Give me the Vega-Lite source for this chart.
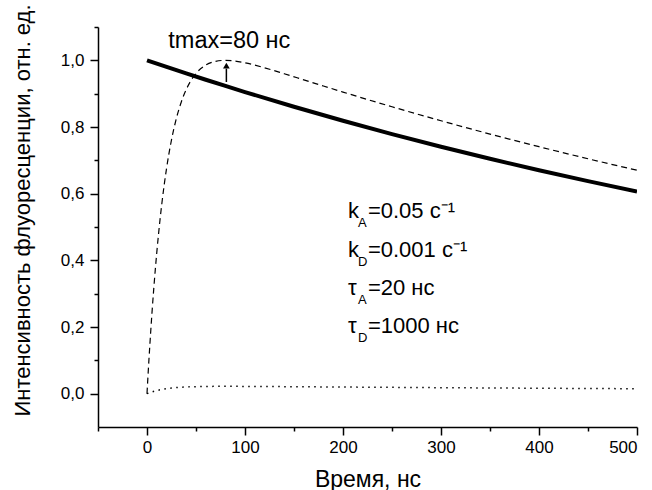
{
  "$schema": "https://vega.github.io/schema/vega-lite/v6.json",
  "width": 539,
  "height": 400,
  "autosize": {"type": "none"},
  "padding": {"left": 98, "top": 27, "right": 15, "bottom": 63},
  "background": "white",
  "config": {
    "view": {"stroke": null},
    "font": "Liberation Sans",
    "axis": {
      "grid": false,
      "domainColor": "#000",
      "domainWidth": 1.5,
      "tickColor": "#000",
      "tickWidth": 1.5,
      "labelColor": "#000",
      "labelFont": "Liberation Sans",
      "labelFontSize": 17,
      "titleFont": "Liberation Sans",
      "titleFontSize": 22,
      "titleFontWeight": "normal",
      "titleColor": "#000"
    }
  },
  "datasets": {
    "curves": [
      {"t": 0, "v": 1.0, "s": "solid"},
      {"t": 20, "v": 0.9802, "s": "solid"},
      {"t": 40, "v": 0.9608, "s": "solid"},
      {"t": 60, "v": 0.9418, "s": "solid"},
      {"t": 80, "v": 0.9231, "s": "solid"},
      {"t": 100, "v": 0.9048, "s": "solid"},
      {"t": 150, "v": 0.8607, "s": "solid"},
      {"t": 200, "v": 0.8187, "s": "solid"},
      {"t": 250, "v": 0.7788, "s": "solid"},
      {"t": 300, "v": 0.7408, "s": "solid"},
      {"t": 350, "v": 0.7047, "s": "solid"},
      {"t": 400, "v": 0.6703, "s": "solid"},
      {"t": 450, "v": 0.6376, "s": "solid"},
      {"t": 500, "v": 0.6065, "s": "solid"},
      {"t": 0, "v": 0.0, "s": "dash"},
      {"t": 1, "v": 0.0528, "s": "dash"},
      {"t": 2, "v": 0.1030, "s": "dash"},
      {"t": 3, "v": 0.1506, "s": "dash"},
      {"t": 5, "v": 0.2390, "s": "dash"},
      {"t": 7, "v": 0.3187, "s": "dash"},
      {"t": 10, "v": 0.4239, "s": "dash"},
      {"t": 12, "v": 0.4855, "s": "dash"},
      {"t": 15, "v": 0.5667, "s": "dash"},
      {"t": 20, "v": 0.6768, "s": "dash"},
      {"t": 25, "v": 0.7613, "s": "dash"},
      {"t": 30, "v": 0.8260, "s": "dash"},
      {"t": 35, "v": 0.8752, "s": "dash"},
      {"t": 40, "v": 0.9123, "s": "dash"},
      {"t": 45, "v": 0.9401, "s": "dash"},
      {"t": 50, "v": 0.9606, "s": "dash"},
      {"t": 60, "v": 0.9858, "s": "dash"},
      {"t": 70, "v": 0.9971, "s": "dash"},
      {"t": 80, "v": 1.0, "s": "dash"},
      {"t": 90, "v": 0.9978, "s": "dash"},
      {"t": 100, "v": 0.9926, "s": "dash"},
      {"t": 120, "v": 0.9775, "s": "dash"},
      {"t": 140, "v": 0.9598, "s": "dash"},
      {"t": 160, "v": 0.9414, "s": "dash"},
      {"t": 180, "v": 0.9230, "s": "dash"},
      {"t": 200, "v": 0.9048, "s": "dash"},
      {"t": 250, "v": 0.8607, "s": "dash"},
      {"t": 300, "v": 0.8188, "s": "dash"},
      {"t": 350, "v": 0.7788, "s": "dash"},
      {"t": 400, "v": 0.7409, "s": "dash"},
      {"t": 450, "v": 0.7047, "s": "dash"},
      {"t": 500, "v": 0.6704, "s": "dash"},
      {"t": 0, "v": 0.0, "s": "dot"},
      {"t": 2, "v": 0.0023, "s": "dot"},
      {"t": 5, "v": 0.0053, "s": "dot"},
      {"t": 10, "v": 0.0093, "s": "dot"},
      {"t": 15, "v": 0.0125, "s": "dot"},
      {"t": 20, "v": 0.0149, "s": "dot"},
      {"t": 25, "v": 0.0168, "s": "dot"},
      {"t": 30, "v": 0.0182, "s": "dot"},
      {"t": 40, "v": 0.0201, "s": "dot"},
      {"t": 50, "v": 0.0211, "s": "dot"},
      {"t": 60, "v": 0.0217, "s": "dot"},
      {"t": 80, "v": 0.0220, "s": "dot"},
      {"t": 100, "v": 0.0218, "s": "dot"},
      {"t": 150, "v": 0.0209, "s": "dot"},
      {"t": 200, "v": 0.0199, "s": "dot"},
      {"t": 300, "v": 0.0180, "s": "dot"},
      {"t": 400, "v": 0.0163, "s": "dot"},
      {"t": 500, "v": 0.0148, "s": "dot"}
    ],
    "arrow": [{"t": 81, "v1": 0.935, "v2": 0.975, "head": 0.984}],
    "tmax": [{"t": 84, "v": 1.036, "label": "tmax=80 нс"}],
    "ann": [
      {"t": 205, "v": 0.527, "sym": "k", "sub": "A", "rest": "=0.05 c⁻¹"},
      {"t": 205, "v": 0.41, "sym": "k", "sub": "D", "rest": "=0.001 c⁻¹"},
      {"t": 205, "v": 0.296, "sym": "τ", "sub": "A", "rest": "=20 нс"},
      {"t": 205, "v": 0.182, "sym": "τ", "sub": "D", "rest": "=1000 нс"}
    ]
  },
  "resolve": {"scale": {"x": "shared", "y": "shared"}, "axis": {"x": "independent", "y": "independent"}},
  "layer": [
    {
      "data": {"name": "curves"},
      "transform": [{"filter": "datum.s === 'solid'"}],
      "mark": {"type": "line", "color": "#000", "strokeWidth": 4, "clip": true},
      "encoding": {
        "x": {"field": "t", "type": "quantitative",
          "scale": {"domain": [-50, 500], "nice": false, "zero": false},
          "axis": {"orient": "bottom", "values": [0, 100, 200, 300, 400, 500], "tickSize": 8, "labelPadding": 4, "format": "d", "title": "Время, нс", "titleFontSize": 23, "titleY": 52, "titleBaseline": "middle"}},
        "y": {"field": "v", "type": "quantitative",
          "scale": {"domain": [-0.1, 1.1], "nice": false, "zero": false},
          "axis": {"orient": "left", "values": [0, 0.2, 0.4, 0.6, 0.8, 1.0], "tickSize": 8, "labelPadding": 6,
            "labelExpr": "replace(format(datum.value, '.1f'), '.', ',')",
            "title": "Интенсивность флуоресценции, отн. ед.", "titleX": -76, "titleY": 183, "titleAngle": -90, "titleAlign": "center", "titleBaseline": "middle"}}
      }
    },
    {
      "data": {"name": "curves"},
      "transform": [{"filter": "datum.s === 'dash'"}],
      "mark": {"type": "line", "color": "#000", "strokeWidth": 1.2, "strokeDash": [6, 4], "interpolate": "monotone"},
      "encoding": {
        "x": {"field": "t", "type": "quantitative", "axis": {"orient": "bottom", "values": [-50, 50, 150, 250, 350, 450], "tickSize": 4, "labels": false, "domain": false, "title": null}},
        "y": {"field": "v", "type": "quantitative", "axis": {"orient": "left", "values": [0.1, 0.3, 0.5, 0.7, 0.9, 1.1], "tickSize": 4, "labels": false, "domain": false, "title": null}}
      }
    },
    {
      "data": {"name": "curves"},
      "transform": [{"filter": "datum.s === 'dot'"}],
      "mark": {"type": "line", "color": "#000", "strokeWidth": 1.5, "strokeDash": [1.5, 4.5], "interpolate": "monotone"},
      "encoding": {
        "x": {"field": "t", "type": "quantitative", "axis": null},
        "y": {"field": "v", "type": "quantitative", "axis": null}
      }
    },
    {
      "data": {"name": "arrow"},
      "mark": {"type": "rule", "color": "#000", "strokeWidth": 1.5},
      "encoding": {
        "x": {"field": "t", "type": "quantitative", "axis": null},
        "y": {"field": "v1", "type": "quantitative", "axis": null},
        "y2": {"field": "v2"}
      }
    },
    {
      "data": {"name": "arrow"},
      "mark": {"type": "point", "shape": "triangle-up", "filled": true, "color": "#000", "size": 45, "opacity": 1},
      "encoding": {
        "x": {"field": "t", "type": "quantitative", "axis": null},
        "y": {"field": "head", "type": "quantitative", "axis": null}
      }
    },
    {
      "data": {"name": "tmax"},
      "mark": {"type": "text", "fontSize": 23.5, "align": "center", "baseline": "alphabetic", "color": "#000", "font": "Liberation Sans"},
      "encoding": {
        "x": {"field": "t", "type": "quantitative", "axis": null},
        "y": {"field": "v", "type": "quantitative", "axis": null},
        "text": {"field": "label"}
      }
    },
    {
      "data": {"name": "ann"},
      "mark": {"type": "text", "fontSize": 22, "align": "left", "baseline": "alphabetic", "color": "#000", "font": "Liberation Sans"},
      "encoding": {
        "x": {"field": "t", "type": "quantitative", "axis": null},
        "y": {"field": "v", "type": "quantitative", "axis": null},
        "text": {"field": "sym"}
      }
    },
    {
      "data": {"name": "ann"},
      "mark": {"type": "text", "fontSize": 13, "align": "left", "baseline": "alphabetic", "dx": 10, "dy": 9, "color": "#000", "font": "Liberation Sans"},
      "encoding": {
        "x": {"field": "t", "type": "quantitative", "axis": null},
        "y": {"field": "v", "type": "quantitative", "axis": null},
        "text": {"field": "sub"}
      }
    },
    {
      "data": {"name": "ann"},
      "mark": {"type": "text", "fontSize": 22, "align": "left", "baseline": "alphabetic", "dx": 20, "color": "#000", "font": "Liberation Sans"},
      "encoding": {
        "x": {"field": "t", "type": "quantitative", "axis": null},
        "y": {"field": "v", "type": "quantitative", "axis": null},
        "text": {"field": "rest"}
      }
    }
  ]
}
